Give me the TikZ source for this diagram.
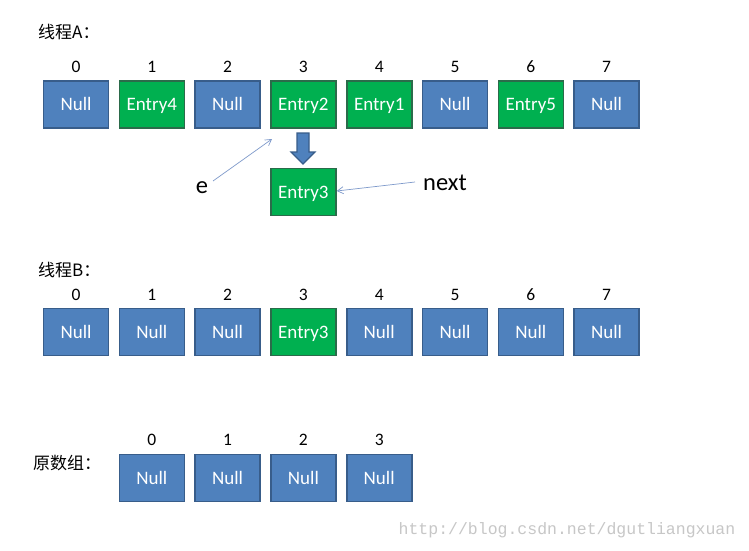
\documentclass[tikz,border=0pt]{standalone}
\usepackage{fontspec}
\setmainfont{Carlito}
\newfontfamily\cjk{Noto Sans CJK SC}
\newfontfamily\wmfont{Liberation Mono}
\usetikzlibrary{arrows.meta}
\definecolor{bfill}{HTML}{4F81BD}
\definecolor{bline}{HTML}{385D8A}
\definecolor{gfill}{HTML}{00B050}
\definecolor{gline}{HTML}{2B6B4A}
\definecolor{thin}{HTML}{7F9ACB}
\begin{document}
\begin{tikzpicture}[x=1pt,y=-1pt,
  cell/.style={minimum width=65pt,minimum height=47pt,inner sep=0pt,line width=1.6pt,
    text=white,font=\fontsize{19}{19}\selectfont,text height=12.5pt,text depth=0pt},
  nullbox/.style={cell,fill=bfill,draw=bline},
  entrybox/.style={cell,fill=gfill,draw=gline},
  idx/.style={font=\fontsize{17.5}{17.5}\selectfont,inner sep=0pt},
  lbl/.style={font=\cjk\fontsize{17}{17}\selectfont,inner sep=0pt,anchor=west},
  big/.style={font=\fontsize{24.5}{24.5}\selectfont,inner sep=0pt},
  pointer/.style={draw=thin,line width=0.7pt,-{Straight Barb[length=6pt,width=7pt]}},
  bigarrow/.style={fill=bfill,draw=bline,line width=1.2pt}]
\useasboundingbox (0,0) rectangle (749,551);
\fill[white] (0,0) rectangle (749,551);
% Thread A
\node[lbl] (la) at (38,32) {线程A：};
\foreach \i/\t/\s in {0/Null/nullbox,1/Entry4/entrybox,2/Null/nullbox,3/Entry2/entrybox,4/Entry1/entrybox,5/Null/nullbox,6/Entry5/entrybox,7/Null/nullbox}{
  \node[\s] (a\i) at ({76+75.8*\i},104.5) {\t};
  \node[idx] (ai\i) at ({76+75.8*\i},67) {\i};
}
\node[entrybox] (c3) at (303.4,192) {Entry3};
\draw[bigarrow] (297,133) -- (309,133) -- (309,152) -- (315,152) -- (303,164) -- (291,152) -- (297,152) -- cycle;
\node[big] (e) at (202,188) {e};
\coordinate (es) at (213,181);
\coordinate (ee) at (272,139);
\draw[pointer] (es) -- (ee);
\node[big] (nx) at (445,183) {next};
\coordinate (ns) at (415,182);
\draw[pointer] (ns) -- (c3.east |- 0,191);
% Thread B
\node[lbl] (lb) at (38,270) {线程B：};
\foreach \i/\t/\s in {0/Null/nullbox,1/Null/nullbox,2/Null/nullbox,3/Entry3/entrybox,4/Null/nullbox,5/Null/nullbox,6/Null/nullbox,7/Null/nullbox}{
  \node[\s] (b\i) at ({76+75.8*\i},332) {\t};
  \node[idx] (bi\i) at ({76+75.8*\i},295) {\i};
}
% Original array
\node[lbl] (lo) at (33,463) {原数组：};
\foreach \i in {0,1,2,3}{
  \node[nullbox] (o\i) at ({151.8+75.8*\i},478) {Null};
  \node[idx] (oi\i) at ({151.8+75.8*\i},440) {\i};
}
\node[font=\wmfont\fontsize{16.5}{16.5}\selectfont,text=black!22,inner sep=0pt] (wm) at (567,530) {http://blog.csdn.net/dgutliangxuan};
\end{tikzpicture}
\end{document}
